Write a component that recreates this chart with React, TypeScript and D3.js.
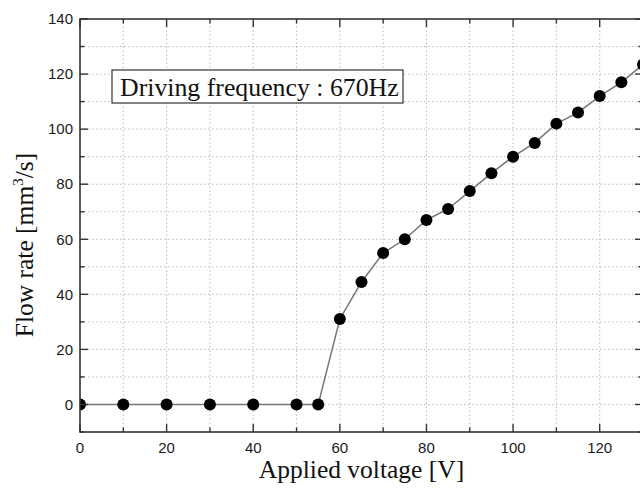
import React from 'react';
import * as d3 from 'd3';

// applied voltage [V] and measured flow rate [mm^3/s]
const voltage = [0, 10, 20, 30, 40, 50, 55, 60, 65, 70, 75, 80, 85, 90, 95, 100, 105, 110, 115, 120, 125, 130];
const flowRate = [0, 0, 0, 0, 0, 0, 0, 31, 44.5, 55, 60, 67, 71, 77.5, 84, 90, 95, 102, 106, 112, 117, 123.5];

const xTickLabels = [0, 20, 40, 60, 80, 100, 120];
const yTickLabels = [0, 20, 40, 60, 80, 100, 120, 140];
const annotation = 'Driving frequency : 670Hz';

const width = 640;
const height = 490;
const margin = { top: 19, right: -3, bottom: 58, left: 80 };

export default function App() {
  const x = d3.scaleLinear().domain([0, 130]).range([margin.left, width - margin.right]);
  const y = d3.scaleLinear().domain([-10, 140]).range([height - margin.bottom, margin.top]);

  const x0 = x.range()[0], x1 = x.range()[1];
  const y0 = y.range()[0], y1 = y.range()[1];

  const xMinor = d3.range(0, 131, 10);
  const yMinor = d3.range(-10, 141, 10);

  const pts = voltage.map((v, i) => [v, flowRate[i]] as [number, number]);
  const line = d3.line<[number, number]>().x(d => x(d[0])).y(d => y(d[1]));

  const axisColor = '#333';
  const sans = 'Liberation Sans, Arial, sans-serif';
  const serif = 'Liberation Serif, Times New Roman, serif';

  return (
    <svg width={width} height={height} style={{ position: 'absolute', left: 0, top: 0, background: '#fff' }}>
      <defs>
        <clipPath id="plot">
          <rect x={x0} y={y1} width={x1 - x0} height={y0 - y1} />
        </clipPath>
      </defs>

      {/* grid */}
      <g stroke="#bdbdbd" strokeWidth={1} strokeDasharray="1.5,2.5">
        {xMinor.filter(v => v > 0 && v < 130).map(v => (
          <line key={'gx' + v} x1={x(v)} x2={x(v)} y1={y0} y2={y1} />
        ))}
        {yMinor.filter(v => v > -10 && v < 140).map(v => (
          <line key={'gy' + v} x1={x0} x2={x1} y1={y(v)} y2={y(v)} />
        ))}
      </g>

      {/* annotation box */}
      <rect x={112} y={70} width={291} height={33} fill="#fff" stroke="#333" strokeWidth={1.2} />
      <text x={120} y={96} fontFamily={serif} fontSize={25.8} fill="#111">{annotation}</text>

      {/* data */}
      <g clipPath="url(#plot)">
        <path d={line(pts) || ''} fill="none" stroke="#777" strokeWidth={1.5} />
        {pts.map((d, i) => (
          <circle key={i} cx={x(d[0])} cy={y(d[1])} r={6} fill="#000" />
        ))}
      </g>

      {/* frame */}
      <rect x={x0} y={y1} width={x1 - x0} height={y0 - y1} fill="none" stroke={axisColor} strokeWidth={1.6} />

      {/* ticks */}
      <g stroke={axisColor} strokeWidth={1.4}>
        {xMinor.map(v => {
          const len = v % 20 === 0 ? 8 : 4.5;
          return (
            <g key={'tx' + v}>
              <line x1={x(v)} x2={x(v)} y1={y0} y2={y0 - len} />
              <line x1={x(v)} x2={x(v)} y1={y1} y2={y1 + len} />
            </g>
          );
        })}
        {yMinor.map(v => {
          const len = v % 20 === 0 ? 8 : 4.5;
          return (
            <g key={'ty' + v}>
              <line x1={x0} x2={x0 + len} y1={y(v)} y2={y(v)} />
              <line x1={x1} x2={x1 - len} y1={y(v)} y2={y(v)} />
            </g>
          );
        })}
      </g>

      {/* tick labels */}
      <g fontFamily={sans} fontSize={15} fill="#1a1a1a">
        {xTickLabels.map(v => (
          <text key={'lx' + v} x={x(v)} y={y0 + 21} textAnchor="middle">{v}</text>
        ))}
        {yTickLabels.map(v => (
          <text key={'ly' + v} x={x0 - 7} y={y(v)} dy="0.35em" textAnchor="end">{v}</text>
        ))}
      </g>

      {/* axis titles */}
      <text x={(x0 + x1) / 2} y={478} textAnchor="middle" fontFamily={serif} fontSize={25.5} fill="#111">
        Applied voltage [V]
      </text>
      <text transform="translate(33,245) rotate(-90)" textAnchor="middle" fontFamily={serif} fontSize={25.5} fill="#111">
        Flow rate [mm<tspan dy={-10} fontSize={15}>3</tspan><tspan dy={10}>/s]</tspan>
      </text>
    </svg>
  );
}
